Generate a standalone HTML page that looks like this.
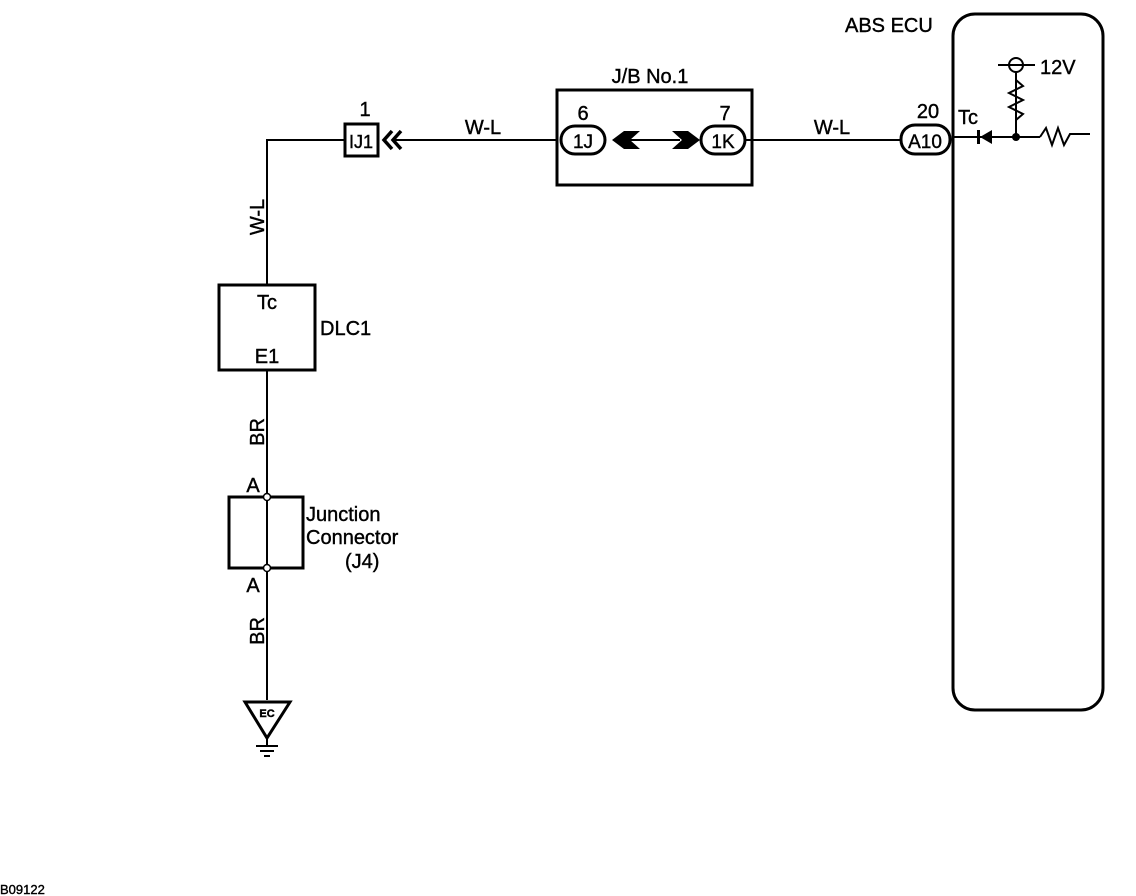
<!DOCTYPE html>
<html><head><style>body{margin:0;background:#fff}svg{display:block}text{font-family:"Liberation Sans",Arial,sans-serif;fill:#000;stroke:#000;stroke-width:0.4}</style></head>
<body>
<svg width="1136" height="896" viewBox="0 0 1136 896" xmlns="http://www.w3.org/2000/svg">
<g stroke="#000" stroke-width="2" fill="none">
<polyline points="345,140 267,140 267,285"/>
<rect x="345" y="124" width="33" height="32" stroke-width="3"/>
<polyline points="392,131 384,140 392,149" stroke-width="3.5"/>
<polyline points="401,131 393,140 401,149" stroke-width="3.5"/>
<line x1="392" y1="140" x2="557" y2="140"/>
<rect x="557" y="90" width="195" height="95" stroke-width="3"/>
<rect x="561" y="126" width="44" height="28" rx="14" stroke-width="3"/>
<rect x="701" y="126" width="44" height="28" rx="14" stroke-width="3"/>
<line x1="630" y1="140" x2="680" y2="140"/>
<line x1="745" y1="140" x2="901" y2="140"/>
<rect x="901" y="125" width="49" height="29" rx="14" stroke-width="3"/>
<rect x="953" y="14" width="150" height="696" rx="22" stroke-width="3"/>
<line x1="953" y1="137" x2="1040" y2="137"/>
<line x1="1016" y1="72" x2="1016" y2="137"/>
<polyline points="1016,80 1023,86 1009,93 1023,100 1009,107 1023,114 1016,120" />
<circle cx="1016" cy="65" r="7"/>
<line x1="998" y1="65" x2="1035" y2="65"/>
<polyline points="1040,137 1046,128 1052,145 1058,128 1064,145 1070,134 1090,134"/>
<rect x="219" y="285" width="96" height="85" stroke-width="3"/>
<line x1="267" y1="370" x2="267" y2="700"/>
<rect x="229" y="497" width="74" height="71" stroke-width="3"/>
<polygon points="245,702 290,702 267,738" stroke-width="3"/>
<line x1="267" y1="738" x2="267" y2="746"/>
<line x1="256" y1="746" x2="278" y2="746"/>
<line x1="260" y1="751" x2="274" y2="751"/>
<line x1="264" y1="756" x2="270" y2="756"/>
</g>
<g fill="#000">
<polygon points="612,140 624,131 640,131 630,140 640,149 624,149"/>
<polygon points="672,131 688,131 700,140 688,149 672,149 682,140"/>
<polygon points="980,137 992,130 992,144"/>
<rect x="977" y="130" width="3" height="14"/>
<circle cx="1016" cy="137" r="4"/>
</g>
<g fill="#fff" stroke="#000" stroke-width="1.5"><circle cx="267" cy="497" r="3.5"/><circle cx="267" cy="568" r="3.5"/></g>
<g font-size="20">
<text x="365" y="116" text-anchor="middle">1</text>
<text x="361" y="148" text-anchor="middle" font-size="18">IJ1</text>
<text x="483" y="134" text-anchor="middle">W-L</text>
<text x="650" y="83" text-anchor="middle">J/B No.1</text>
<text x="583" y="120" text-anchor="middle">6</text>
<text x="583" y="148" text-anchor="middle" font-size="19">1J</text>
<text x="725" y="120" text-anchor="middle">7</text>
<text x="723" y="148" text-anchor="middle" font-size="19">1K</text>
<text x="832" y="134" text-anchor="middle">W-L</text>
<text x="928" y="118" text-anchor="middle">20</text>
<text x="925" y="148" text-anchor="middle" font-size="19">A10</text>
<text x="845" y="32">ABS ECU</text>
<text x="958" y="124">Tc</text>
<text x="1040" y="74">12V</text>
<text x="267" y="309" text-anchor="middle">Tc</text>
<text x="267" y="363" text-anchor="middle">E1</text>
<text x="320" y="335">DLC1</text>
<text x="253" y="492" text-anchor="middle">A</text>
<text x="253" y="592" text-anchor="middle">A</text>
<text x="306" y="521">Junction</text>
<text x="306" y="544">Connector</text>
<text x="345" y="568">(J4)</text>
<text transform="translate(264,217) rotate(-90)" text-anchor="middle">W-L</text>
<text transform="translate(264,432) rotate(-90)" text-anchor="middle">BR</text>
<text transform="translate(264,631) rotate(-90)" text-anchor="middle">BR</text>
<text x="267" y="717" text-anchor="middle" font-size="11" font-weight="bold">EC</text>
<text x="0" y="894" font-size="13">B09122</text>
</g>
</svg>
</body></html>
